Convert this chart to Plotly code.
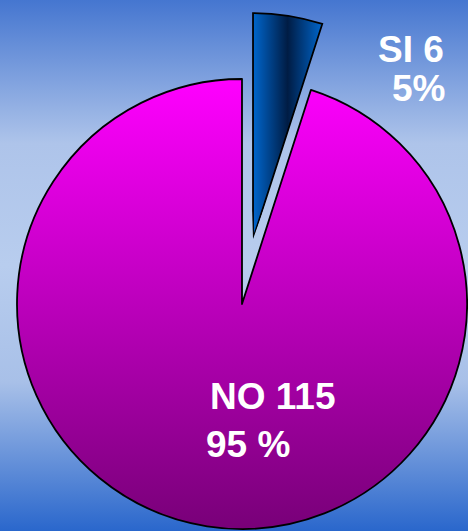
## Pie chart: SI / NO answers, with the small slice pulled out
import base64
import plotly.graph_objs as go

labels = ['SI', 'NO']
values = [6, 115]
pct_text = ['5%', '95 %']

total = sum(values)
si_share = values[0] / total  ## share of the pulled slice

## background: vertical blue gradient, as an svg image behind everything
bg_svg = ('<svg xmlns="http://www.w3.org/2000/svg" width="10" height="100" viewBox="0 0 10 100" '
          'preserveAspectRatio="none"><defs><linearGradient id="g" x1="0" y1="0" x2="0" y2="1">'
          '<stop offset="0" stop-color="#4576d0"/>'
          '<stop offset="0.27" stop-color="#aec4ea"/>'
          '<stop offset="0.5" stop-color="#b8cdee"/>'
          '<stop offset="0.72" stop-color="#a8c0e8"/>'
          '<stop offset="1" stop-color="#2a67cc"/>'
          '</linearGradient></defs><rect width="10" height="100" fill="url(#g)"/></svg>')
bg_src = 'data:image/svg+xml;base64,' + base64.b64encode(bg_svg.encode()).decode()

W, H = 468, 531

## main pie: NO slice drawn, SI slice left see-through (its gap shows the background)
pie = go.Pie(labels=labels, values=values, sort=False, direction='clockwise', rotation=0,
             marker=dict(colors=['rgba(0,0,0,0)', '#d000d0'],
                         line=dict(color='black', width=[0, 1.8])),
             textinfo='none', hoverinfo='label+value+percent', showlegend=False,
             domain=dict(x=[17 / W, 467 / W], y=[2 / H, 452 / H]))

## the pulled-out SI slice, drawn as a polar bar in a subplot cut down to its sector
si_bar = go.Barpolar(r=[1], theta=[360 * si_share / 2], width=[360 * si_share],
                     marker=dict(color='#0050a8', line=dict(color='black', width=1.8)),
                     showlegend=False, hoverinfo='skip', subplot='polar')

fig = go.Figure([pie, si_bar])

font = dict(family='Liberation Sans, Arial', size=37, color='white', weight='bold')
notes = [
    dict(text='%s %d' % (labels[0], values[0]), x=446 / W, y=481 / H, xanchor='right'),
    dict(text=pct_text[0], x=447 / W, y=442 / H, xanchor='right'),
    dict(text='%s %d' % (labels[1], values[1]), x=208 / W, y=135 / H, xanchor='left'),
    dict(text=pct_text[1], x=204 / W, y=87 / H, xanchor='left'),
]
for n in notes:
    n.update(xref='paper', yref='paper', yanchor='middle', showarrow=False, font=font)

fig.update_layout(
    width=W, height=H, margin=dict(l=0, r=0, t=0, b=0),
    paper_bgcolor='#8fb0e4', plot_bgcolor='rgba(0,0,0,0)',
    images=[dict(source=bg_src, xref='paper', yref='paper', x=0, y=1, sizex=1, sizey=1,
                 xanchor='left', yanchor='top', sizing='stretch', layer='below')],
    polar=dict(domain=dict(x=[244.9 / W, 332.6 / W], y=[292 / H, 524.8 / H]),
               sector=[70, 92], hole=0, bgcolor='rgba(0,0,0,0)',
               radialaxis=dict(visible=False, range=[0, 1.03]),
               angularaxis=dict(visible=False, rotation=90, direction='clockwise')),
    annotations=notes,
)

## page margin off, and gradient fills for the two slices (set once the plot is drawn)
post = """
document.body.style.margin = '0';
document.body.style.overflow = 'hidden';
var gd = document.querySelector('.js-plotly-plot');
var svg = gd.querySelector('svg.main-svg');
var ns = 'http://www.w3.org/2000/svg';
var defs = document.createElementNS(ns, 'defs');
svg.insertBefore(defs, svg.firstChild);
function grad(id, x2, y2, stops) {
  var g = document.createElementNS(ns, 'linearGradient');
  g.setAttribute('id', id);
  g.setAttribute('x1', 0); g.setAttribute('y1', 0);
  g.setAttribute('x2', x2); g.setAttribute('y2', y2);
  stops.forEach(function(s) {
    var st = document.createElementNS(ns, 'stop');
    st.setAttribute('offset', s[0]);
    st.setAttribute('stop-color', s[1]);
    g.appendChild(st);
  });
  defs.appendChild(g);
}
grad('gNO', 0, 1, [[0, '#ff00ff'], [1, '#780078']]);
grad('gSI', 1, 0, [[0, '#0066cc'], [0.5, '#001c44'], [1, '#0066cc']]);
var sl = gd.querySelectorAll('.pielayer .slice path.surface');
if (sl.length > 1) { sl[1].style.fill = 'url(#gNO)'; }
gd.querySelectorAll('.polarlayer .point path').forEach(function(p) {
  p.style.fill = 'url(#gSI)';
});
"""

fig.write_html("out.html", post_script=post, config=dict(displayModeBar=False))
